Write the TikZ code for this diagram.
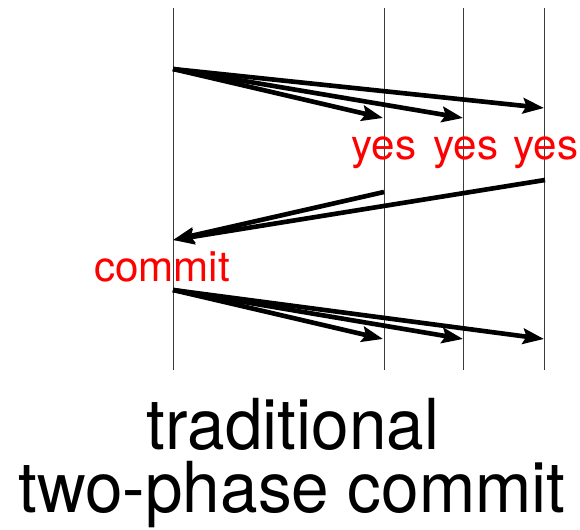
\documentclass[tikz,border=0pt]{standalone}
\usepackage{fontspec}
\setmainfont{TeX Gyre Heros}
\usepackage{tikz}
\usetikzlibrary{arrows.meta,positioning}
\definecolor{votered}{HTML}{FF0000}
\definecolor{bk80}{HTML}{3A3A3A}
\tikzset{
  lifeline/.style={draw=bk80, line width=0.6pt},
  msgarrow/.style={
    -{Stealth[length=15pt, width=11pt, inset=2.5pt]}, line width=3.3pt, color=black
  },
  votelabel/.style={text=votered, anchor=base, inner sep=0pt,
    font=\fontsize{30}{36}\selectfont},
  titleline/.style={anchor=base, inner sep=0pt,
    font=\fontsize{50}{60}\selectfont},
}

\begin{document}
\begin{tikzpicture}[x=0.025cm, y=-0.025cm]
\useasboundingbox (0,0) rectangle (580,530);
% lifelines
\foreach \name/\xpos in {co/173, pa/384, pb/463, pc/544} {
  \coordinate (\name-top) at (\xpos,8);
  \coordinate (\name-bot) at (\xpos,370);
  \draw[lifeline] (\name-top) -- (\name-bot);
}
% message points
\coordinate (co-prep) at (173,69);
\coordinate (pa-prep) at (383,118);
\coordinate (pb-prep) at (463,118);
\coordinate (pc-prep) at (544,108);
\coordinate (pa-vote) at (384,192);
\coordinate (pc-vote) at (545,180);
\coordinate (co-vote) at (173,240);
\coordinate (co-done) at (173,290);
\coordinate (pa-done) at (383,339);
\coordinate (pb-done) at (463,339);
\coordinate (pc-done) at (544,339);
% phase one
\foreach \p in {pa, pb, pc}
  \draw[msgarrow] (co-prep) -- (\p-prep);
\draw[msgarrow] (pa-vote) -- (co-vote);
\draw[msgarrow] (pc-vote) -- (co-vote);
% phase two
\foreach \p in {pa, pb, pc}
  \draw[msgarrow] (co-done) -- (\p-done);
% labels
\node[votelabel] (yesa) at (384,160) {yes};
\node[votelabel] (yesb) at (466,160) {yes};
\node[votelabel] (yesc) at (546,160) {yes};
\node[votelabel] (commit) at (162,282) {commit};
\node[titleline] (title1) at (293,450) {\scalebox{0.96}[1]{traditional}};
\node[titleline] (title2) at (292,513) {\scalebox{0.96}[1]{two-phase commit}};
\end{tikzpicture}
\end{document}
